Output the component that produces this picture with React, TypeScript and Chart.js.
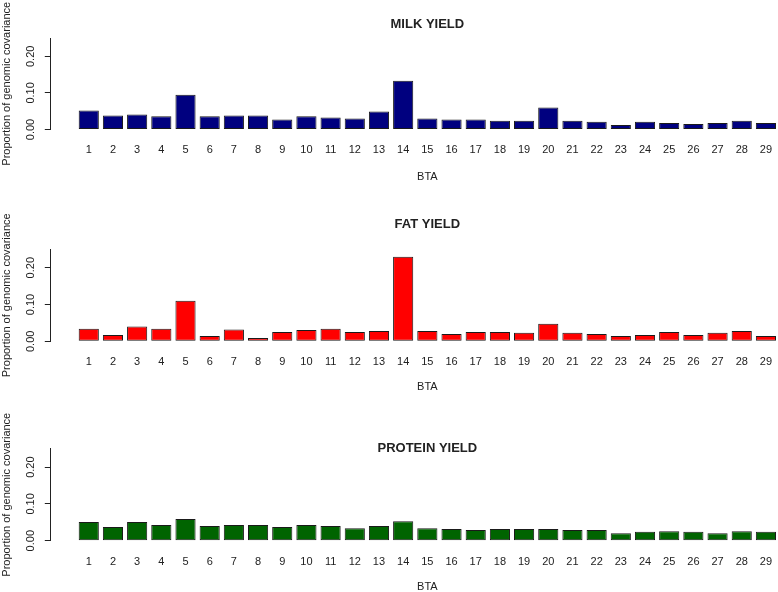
import React, { useEffect, useRef } from "react";
import { Chart, registerables } from "chart.js";

Chart.register(...registerables);

// ---------- data ----------
const CHROMOSOMES = [
  "1", "2", "3", "4", "5", "6", "7", "8", "9", "10",
  "11", "12", "13", "14", "15", "16", "17", "18", "19", "20",
  "21", "22", "23", "24", "25", "26", "27", "28", "29",
];

const MILK_YIELD = [
  0.052, 0.038, 0.041, 0.036, 0.095, 0.036, 0.038, 0.038, 0.027, 0.036,
  0.033, 0.030, 0.049, 0.133, 0.030, 0.027, 0.027, 0.024, 0.024, 0.060,
  0.024, 0.021, 0.0125, 0.021, 0.018, 0.015, 0.018, 0.024, 0.018,
];

const FAT_YIELD = [
  0.034, 0.017, 0.040, 0.034, 0.110, 0.0145, 0.032, 0.009, 0.025, 0.031,
  0.034, 0.025, 0.028, 0.230, 0.028, 0.020, 0.025, 0.025, 0.023, 0.048,
  0.023, 0.020, 0.0145, 0.017, 0.025, 0.017, 0.023, 0.028, 0.0145,
];

const PROTEIN_YIELD = [
  0.051, 0.037, 0.051, 0.043, 0.059, 0.040, 0.043, 0.043, 0.037, 0.043,
  0.040, 0.034, 0.040, 0.053, 0.034, 0.032, 0.029, 0.032, 0.032, 0.032,
  0.029, 0.029, 0.020, 0.024, 0.026, 0.024, 0.020, 0.026, 0.024,
];

const Y_TICK_VALUES = [0, 0.05, 0.1, 0.15, 0.2, 0.25];
const Y_TICK_LABELS = ["0.00", "", "0.10", "", "0.20", ""];

const PANEL_TITLES = ["MILK YIELD", "FAT YIELD", "PROTEIN YIELD"];
const Y_TITLE = "Proportion of genomic covariance";
const X_TITLE = "BTA";

// ---------- styling / layout ----------
const SERIES = [MILK_YIELD, FAT_YIELD, PROTEIN_YIELD];
const COLORS = ["#00007F", "#FF0000", "#006400"];
const INK = "#222222";
const FONT = "'Liberation Sans', Arial, sans-serif";

// R barplot conventions: width 1, space 0.2, 4% axis extension
const BAR_SPACE = 0.2;
const barCenters = CHROMOSOMES.map((_, i) => BAR_SPACE + 0.5 + i * (1 + BAR_SPACE));
const rawMin = BAR_SPACE;
const rawMax = CHROMOSOMES.length * (1 + BAR_SPACE);
const ext = 0.04 * (rawMax - rawMin);
const X_MIN = rawMin - ext;
const X_MAX = rawMax + ext;

const CANVAS_W = 810;
const PLOT_LEFT = 50.8;
const PLOT_RIGHT = 803.9;

const TITLE_SIZE = 13;
const TEXT_SIZE = 11;
const TITLE_LH = TITLE_SIZE * 1.2;
const TEXT_LH = TEXT_SIZE * 1.2;

type PanelLayout = {
  top: number;
  height: number;
  titleCenter: number;
  areaTop: number;
  areaBottom: number;
  tickCenter: number;
  xTitleCenter: number;
};

const LAYOUT: PanelLayout[] = [
  { top: 0, height: 190, titleCenter: 24, areaTop: 38, areaBottom: 129.5, tickCenter: 150, xTitleCenter: 177 },
  { top: 190, height: 205, titleCenter: 34.7, areaTop: 59.3, areaBottom: 151.3, tickCenter: 172, xTitleCenter: 196.7 },
  { top: 395, height: 200, titleCenter: 53.7, areaTop: 53.7, areaBottom: 145.7, tickCenter: 166.7, xTitleCenter: 191.7 },
];

function Panel({ idx }: { idx: number }) {
  const ref = useRef<HTMLCanvasElement>(null);
  const L = LAYOUT[idx];

  useEffect(() => {
    const canvas = ref.current;
    if (!canvas) return;
    const xAxisHeight = L.xTitleCenter + TEXT_LH / 2 - L.areaBottom;
    const tickPadding = L.tickCenter - L.areaBottom - TEXT_LH / 2;
    const bottomPad = L.height - (L.xTitleCenter + TEXT_LH / 2);

    const chart = new Chart(canvas, {
      type: "bar",
      data: {
        datasets: [
          {
            data: SERIES[idx].map((y, i) => ({ x: barCenters[i], y })),
            backgroundColor: COLORS[idx],
            borderColor: "#1a1a1a",
            borderWidth: 1,
            borderSkipped: false,
            categoryPercentage: 1,
            barPercentage: 1 / (1 + BAR_SPACE),
          } as any,
        ],
      },
      options: {
        responsive: false,
        animation: false,
        devicePixelRatio: 1,
        layout: {
          padding: { left: 0, right: CANVAS_W - PLOT_RIGHT, top: 0, bottom: bottomPad },
        },
        plugins: {
          legend: { display: false },
          tooltip: { enabled: false },
          title: {
            display: true,
            text: PANEL_TITLES[idx],
            fullSize: false,
            color: INK,
            font: { family: FONT, size: TITLE_SIZE, weight: "bold" },
            padding: {
              top: L.titleCenter - TITLE_LH / 2,
              bottom: L.areaTop - L.titleCenter - TITLE_LH / 2,
            },
          },
        },
        scales: {
          x: {
            type: "linear",
            position: "bottom",
            min: X_MIN,
            max: X_MAX,
            offset: false,
            grid: { display: false, drawTicks: false },
            border: { display: false },
            ticks: {
              autoSkip: false,
              minRotation: 0,
              maxRotation: 0,
              padding: tickPadding,
              color: INK,
              font: { family: FONT, size: TEXT_SIZE },
              callback: (_v: any, i: number) => CHROMOSOMES[i],
            },
            afterBuildTicks: (s: any) => {
              s.ticks = barCenters.map((v) => ({ value: v }));
            },
            afterFit: (s: any) => {
              s.height = xAxisHeight;
            },
            title: {
              display: true,
              text: X_TITLE,
              color: INK,
              font: { family: FONT, size: TEXT_SIZE },
              padding: 0,
            },
          },
          y: {
            type: "linear",
            position: "left",
            min: 0,
            max: 0.25,
            grid: {
              display: true,
              drawOnChartArea: false,
              drawTicks: true,
              tickLength: 6,
              color: INK,
              lineWidth: 1,
            },
            border: { display: true, color: INK, width: 1 },
            ticks: {
              minRotation: 90,
              maxRotation: 90,
              crossAlign: "center",
              padding: 3,
              color: INK,
              font: { family: FONT, size: TEXT_SIZE },
              callback: (_v: any, i: number) => Y_TICK_LABELS[i],
            },
            afterBuildTicks: (s: any) => {
              s.ticks = Y_TICK_VALUES.map((v) => ({ value: v }));
            },
            afterFit: (s: any) => {
              s.width = PLOT_LEFT;
            },
            title: {
              display: true,
              text: Y_TITLE,
              color: INK,
              font: { family: FONT, size: TEXT_SIZE },
              padding: 0,
            },
          },
        },
      } as any,
    });
    return () => chart.destroy();
  }, [idx]);

  return (
    <canvas
      ref={ref}
      width={CANVAS_W}
      height={L.height}
      style={{ position: "absolute", left: 0, top: L.top, width: CANVAS_W, height: L.height }}
    />
  );
}

export default function App() {
  return (
    <div
      style={{
        position: "absolute",
        left: 0,
        top: 0,
        width: 778,
        height: 592,
        overflow: "hidden",
        background: "#ffffff",
      }}
    >
      {[0, 1, 2].map((i) => (
        <Panel key={i} idx={i} />
      ))}
    </div>
  );
}
